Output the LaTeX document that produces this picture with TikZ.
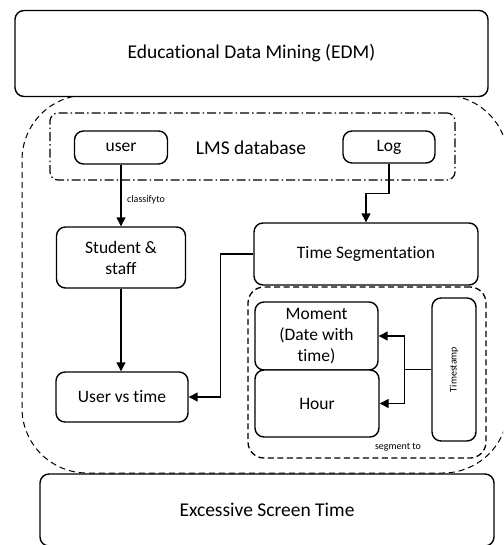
\documentclass[tikz,border=0pt]{standalone}
\usepackage{fontspec}
\setmainfont{Carlito}[Ligatures=NoCommon]
\usetikzlibrary{arrows.meta}
\begin{document}
\begin{tikzpicture}[x=1pt,y=-1pt,
  box/.style={draw,rounded corners=9pt,line width=1.4pt,fill=white,inner sep=0pt,align=center,font=\fontsize{17.5}{21}\selectfont},
  big/.style={font=\fontsize{19.5}{23}\selectfont},
  cont/.style={draw,inner sep=0pt},
  arr/.style={line width=1.4pt,-{Triangle[length=9pt,width=9pt]}},
  lbl/.style={font=\fontsize{10}{12}\selectfont,inner sep=0pt}]
\useasboundingbox (0,0) rectangle (503,545);
\clip (0,0) rectangle (503,545);
% outer dashed container
\node[cont,line width=1pt,dash pattern=on 6pt off 4pt,rounded corners=65pt,minimum width=486pt,minimum height=378pt] (outer) at (265,284) {};
% top and bottom boxes
\node[box,big,minimum width=473pt,minimum height=86pt] (edm) at (251.5,53.5) {Educational Data Mining (EDM)};
\node[box,big,minimum width=454pt,minimum height=72pt] (est) at (267,510) {Excessive Screen Time};
% LMS database container
\node[cont,line width=1.2pt,dash pattern=on 9pt off 3pt on 1.5pt off 3pt,rounded corners=8pt,minimum width=405pt,minimum height=67pt] (lms) at (252.5,146.5) {};
\node[inner sep=0pt,big] (lmstxt) at (251,148) {LMS database};
\node[box,minimum width=93pt,minimum height=33pt] (user) at (121,147.5) {user};
\node[box,minimum width=92pt,minimum height=32pt] (log) at (389,147) {Log};
\node[box,minimum width=129pt,minimum height=61pt] (student) at (121,257.5) {Student \&\\ staff};
\node[box,minimum width=132pt,minimum height=50pt] (uvt) at (122,397) {User vs time};
\node[box,minimum width=224pt,minimum height=62pt] (ts) at (366,254) {Time Segmentation};
% inner dashed container
\node[cont,line width=1.3pt,dash pattern=on 6pt off 3.5pt,rounded corners=16pt,minimum width=238pt,minimum height=171pt] (inner) at (367,372.5) {};
\node[box,minimum width=123pt,minimum height=68pt] (moment) at (316.5,336) {Moment\\(Date with\\time)};
\node[box,minimum width=124pt,minimum height=67pt] (hour) at (317,403.5) {Hour};
\node[box,minimum width=44pt,minimum height=143pt] (tstamp) at (454,369.5) {};
\node[lbl,rotate=90] (tstxt) at (tstamp.center) {Timestamp};
% connectors
\draw[arr] (user.south) -- (student.north);
\node[lbl,anchor=west] (cls) at (127,200) {classifyto};
\draw[arr] (log.south) -- ++(0,30) -| (ts.north);
\draw[arr] (student.south) -- (student.south |- uvt.north);
\draw[arr] (ts.west) -- ++(-33,0) |- (uvt.east);
\draw[arr] (tstamp.west) -- ++(-27,0) |- (moment.east);
\draw[arr] (tstamp.west) -- ++(-27,0) |- (hour.east);
\node[lbl] (seg) at (398,447) {segment to};
\end{tikzpicture}
\end{document}
